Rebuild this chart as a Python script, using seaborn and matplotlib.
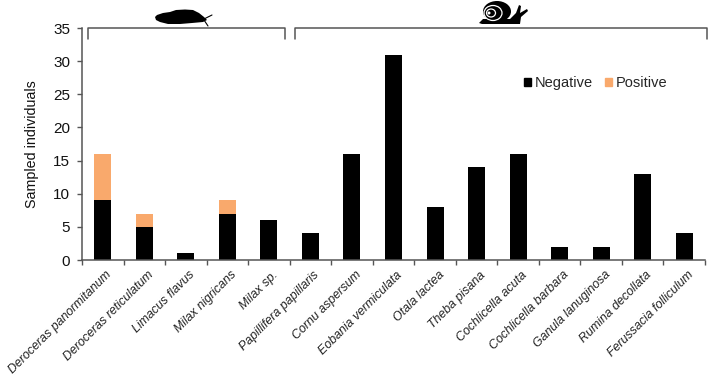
import matplotlib
matplotlib.use("Agg")
import matplotlib.pyplot as plt
import pandas as pd
import seaborn as sns
from matplotlib.patches import Circle, Ellipse, Patch, Polygon

# values
species = ["Deroceras panormitanum", "Deroceras reticulatum", "Limacus flavus",
           "Milax nigricans", "Milax sp.", "Papillifera papillaris", "Cornu aspersum",
           "Eobania vermiculata", "Otala lactea", "Theba pisana", "Cochlicella acuta",
           "Cochlicella barbara", "Ganula lanuginosa", "Rumina decollata",
           "Ferussacia folliculum"]
negative = [9, 5, 1, 7, 6, 4, 16, 31, 8, 14, 16, 2, 2, 13, 4]
positive = [7, 2, 0, 2, 0, 0, 0, 0, 0, 0, 0, 0, 0, 0, 0]
y_ticks = [0, 5, 10, 15, 20, 25, 30, 35]

BLACK = "#000000"
ORANGE = "#F9A96C"
GREY = "#555555"
W, H = 709, 377

sns.set_style("white")
plt.rcParams["font.family"] = ["Liberation Sans", "DejaVu Sans"]

df = pd.DataFrame({"species": species, "negative": negative, "positive": positive})
df["total"] = df["negative"] + df["positive"]

fig = plt.figure(figsize=(W / 100, H / 100), dpi=100)
ax = fig.add_axes([82 / W, 1 - 260 / H, 623 / W, 232 / H])

# stacked bars: totals first, negatives on top
sns.barplot(data=df, x="species", y="total", color=ORANGE, width=0.41, saturation=1,
            linewidth=0, ax=ax)
sns.barplot(data=df, x="species", y="negative", color=BLACK, width=0.41, saturation=1,
            linewidth=0, ax=ax)

ax.set_xlim(-0.5, len(species) - 0.5)
ax.set_ylim(0, 35)
ax.set_yticks(y_ticks)
ax.set_ylabel("Sampled individuals", fontsize=10.3, color="#111111", labelpad=10)
ax.set_xlabel("")
sns.despine(ax=ax)
for side in ["left", "bottom"]:
    ax.spines[side].set_color(GREY)
    ax.spines[side].set_linewidth(1.1)

# ticks sit between the categories on x
ax.set_xticks([i - 0.5 for i in range(len(species) + 1)], labels=[""] * (len(species) + 1))
ax.tick_params(axis="x", bottom=True, length=3.5, width=1, color=GREY)
ax.tick_params(axis="y", left=True, length=3.5, width=1, color=GREY, labelsize=11,
               labelcolor="#111111", pad=5)
for i, name in enumerate(species):
    ax.annotate(name, xy=(i, 0), xycoords=("data", "axes fraction"), xytext=(3, -9),
                textcoords="offset pixels", rotation=45, ha="right", va="top",
                rotation_mode="anchor", style="italic", fontsize=8.9, color="#222222",
                annotation_clip=False)

handles = [Patch(color=BLACK, label="Negative"), Patch(color=ORANGE, label="Positive")]
ax.legend(handles=handles, ncol=2, frameon=False, fontsize=10.5, loc="center left",
          bbox_to_anchor=(442 / 623, 177 / 232), handlelength=0.5, handleheight=0.5,
          handletextpad=0.25, columnspacing=0.8, borderaxespad=0, borderpad=0)

# overlay in pixel coordinates for brackets and silhouettes
top = fig.add_axes([0, 0, 1, 1], zorder=5)
top.set_xlim(0, W)
top.set_ylim(H, 0)
top.axis("off")
top.patch.set_alpha(0)
top.plot([88, 88, 285, 285], [39, 28, 28, 39], color=GREY, lw=1.1)
top.plot([295, 295, 707, 707], [39, 28, 28, 39], color=GREY, lw=1.1)

# slug
top.add_patch(Polygon([(155, 17), (157, 15), (163, 13), (170, 12), (176, 10), (185, 9.5),
                       (193, 10), (199, 13), (204, 17), (207, 20), (203, 22), (192, 23),
                       (180, 24), (168, 24), (160, 22), (156, 20)],
                      closed=True, color=BLACK, lw=0))
top.plot([204, 212], [19, 15], color=BLACK, lw=0.8)
top.plot([204, 208], [20, 26], color=BLACK, lw=0.8)

# snail
top.add_patch(Polygon([(479, 23), (483, 19), (497, 19), (510, 19), (516, 13), (519, 5),
                       (521, 6), (520, 13), (527, 9), (528, 11), (521, 17), (520, 24),
                       (482, 24)],
                      closed=True, color=BLACK, lw=0))
top.add_patch(Ellipse((497, 11.5), 28, 21, color=BLACK, lw=0))
top.add_patch(Ellipse((493, 13), 18, 15, fc="none", ec="white", lw=0.9))
top.add_patch(Ellipse((491, 13), 9, 8, fc="none", ec="white", lw=0.9))
top.add_patch(Circle((489, 13), 1.5, fc="white", lw=0))

fig.savefig("out.png", dpi=100, facecolor="white")
